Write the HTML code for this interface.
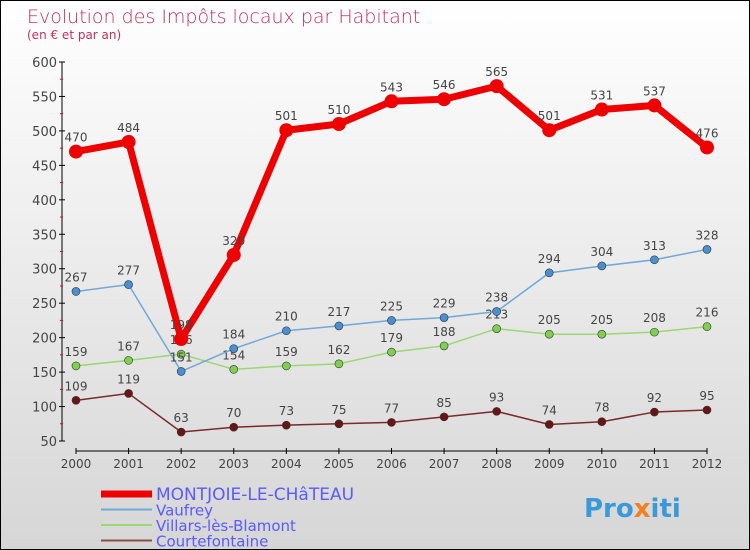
<!DOCTYPE html>
<html><head><meta charset="utf-8">
<style>
body{margin:0}
#c{width:748px;height:548px;border:1px solid #000;background:linear-gradient(#fff,#d6d6d6);position:relative;overflow:hidden;font-family:"DejaVu Sans","Liberation Sans",sans-serif}
</style></head><body>
<div id="c">
<svg id="s" width="748" height="548" xmlns="http://www.w3.org/2000/svg">
<text x="26" y="22" font-size="19" fill="#c0305a" font-family="DejaVu Sans, sans-serif" font-weight="200">Evolution des Impôts locaux par Habitant</text>
<text x="26" y="38" font-size="12" fill="#c0305a">(en € et par an)</text>
<g id="axes"></g><g id="series"></g><g id="legend"></g>
<text x="583" y="516" font-size="26" font-weight="bold" fill="#3a9ad9">Pro<tspan fill="#f08020">x</tspan>iti</text>
</svg>
</div>
<script>
const years=[2000,2001,2002,2003,2004,2005,2006,2007,2008,2009,2010,2011,2012];
const yTicks=[50,100,150,200,250,300,350,400,450,500,550,600];
const montjoie=[470,484,198,320,501,510,543,546,565,501,531,537,476];
const vaufrey=[267,277,151,184,210,217,225,229,238,294,304,313,328];
const villars=[159,167,176,154,159,162,179,188,213,205,205,208,216];
const courte=[109,119,63,70,73,75,77,85,93,74,78,92,95];
const names=["MONTJOIE-LE-CHâTEAU","Vaufrey","Villars-lès-Blamont","Courtefontaine"];
const NS="http://www.w3.org/2000/svg";
const X=i=>75+i*(706-75)/(years.length-1);
const Y=v=>440-(v-50)*(440-61)/550;
function mk(t,a,p){const e=document.createElementNS(NS,t);for(const k in a)e.setAttribute(k,a[k]);p.appendChild(e);return e;}
const ax=document.getElementById('axes');
let l=mk('line',{x1:61,y1:61,x2:61,y2:440,stroke:'#000','stroke-width':1},ax);


l=mk('line',{x1:75,y1:450,x2:706,y2:450,stroke:'#000','stroke-width':1},ax);


yTicks.forEach(v=>{
 mk('line',{x1:58,x2:64,y1:Y(v),y2:Y(v),stroke:'#000'},ax);
 if(v<600){const m=mk('line',{x1:59,x2:62,y1:Y(v+25),y2:Y(v+25),stroke:'#f00'},ax);}
 const t=mk('text',{x:56,y:Y(v)+5,'text-anchor':'end','font-size':13,fill:'#444'},ax);
 t.textContent=v;
 
 
});
years.forEach((y,i)=>{
 mk('line',{x1:X(i),x2:X(i),y1:447,y2:453,stroke:'#000'},ax);
 const t=mk('text',{x:X(i),y:467,'text-anchor':'middle','font-size':12,fill:'#444'},ax);
 t.textContent=y;
 
 
});
const sg=document.getElementById('series');
const defs=[[courte,'#7a2a2a','#6a1515',1.5,4],[villars,'#9ad870','#80d050',1.5,4],[vaufrey,'#70a8d8','#4a90d0',1.5,4],[montjoie,'#ee0000','#ee0000',7,7]];
const snames=['courtefontaine','villars-les-blamont','vaufrey','montjoie-le-chateau'];
defs.forEach((d,si)=>{
 const [vals,lc,pc,w,r]=d;
 const p=mk('polyline',{points:vals.map((v,i)=>X(i)+','+Y(v)).join(' '),fill:'none',stroke:lc,'stroke-width':w,'stroke-linejoin':'round'},sg);
 
 
 vals.forEach((v,i)=>{
  const c=mk('circle',{cx:X(i),cy:Y(v),r:r,fill:pc,stroke:'#333','stroke-width':si==3?0:0.6},sg);
  
  
  const t=mk('text',{x:X(i),y:Y(v)-10,'text-anchor':'middle','font-size':12,fill:'#444'},sg);
  t.textContent=v;
  
  
 });
});
const lg=document.getElementById('legend');
const lcols=['#ee0000','#70a8d8','#9ad870','#8a4a4a'];
const lw=[7,2,2,2];
names.forEach((n,i)=>{
 const yy=493+i*15.5;
 const ln=mk('line',{x1:100,x2:151,y1:yy,y2:yy,stroke:lcols[i],'stroke-width':lw[i]},lg);
 
 
 const t=mk('text',{x:155,y:yy+6,'font-size':i==0?17:15,fill:'#5a5aff'},lg);
 t.textContent=n;
 
 
});
</script>
</body></html>
